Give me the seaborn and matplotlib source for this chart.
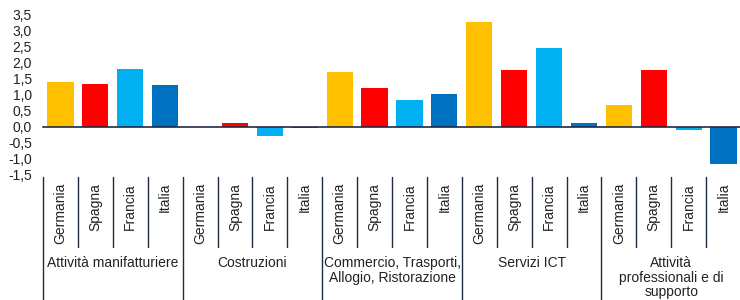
import pandas as pd
import matplotlib.pyplot as plt
import matplotlib.transforms as mtransforms
from matplotlib.lines import Line2D
import seaborn as sns

# Data
groups = ["Attività manifatturiere", "Costruzioni",
          "Commercio, Trasporti,\nAllogio, Ristorazione", "Servizi ICT",
          "Attività\nprofessionali e di\nsupporto"]
countries = ["Germania", "Spagna", "Francia", "Italia"]
manifatturiere = [1.40, 1.35, 1.82, 1.31]
costruzioni = [0.0, 0.11, -0.27, -0.04]
commercio = [1.71, 1.21, 0.84, 1.03]
servizi_ict = [3.29, 1.77, 2.47, 0.11]
professionali = [0.68, 1.77, -0.09, -1.15]
yticks = [-1.5, -1.0, -0.5, 0.0, 0.5, 1.0, 1.5, 2.0, 2.5, 3.0, 3.5]

colors = {"Germania": "#FFC000", "Spagna": "#FF0000",
          "Francia": "#00B0F0", "Italia": "#0070C0"}

series = [manifatturiere, costruzioni, commercio, servizi_ict, professionali]
rows = []
for g, vals in zip(groups, series):
    for c, v in zip(countries, vals):
        rows.append({"key": g + "|" + c, "group": g, "country": c, "value": v})
df = pd.DataFrame(rows)

sns.set_style("white")
plt.rcParams['font.family'] = ['Liberation Sans', 'DejaVu Sans']

fig = plt.figure(figsize=(7.4, 3.0), dpi=100)
ax = fig.add_axes([43 / 740, 1 - 175 / 300, 698 / 740, 160 / 300])

sns.barplot(data=df, x="key", y="value", hue="country", palette=colors,
            dodge=False, width=0.75, saturation=1, linewidth=0,
            legend=False, ax=ax)

n = len(df)
ax.set_xlim(-0.5, n - 0.5)
ax.set_ylim(-1.5, 3.5)
ax.set_xlabel("")
ax.set_ylabel("")

line_col = "#1F2A44"
for s in ["top", "right", "left"]:
    ax.spines[s].set_visible(False)
ax.spines["bottom"].set_position(("data", 0))
ax.spines["bottom"].set_color(line_col)
ax.spines["bottom"].set_linewidth(1.2)

ax.set_xticks([i - 0.5 for i in range(n + 1)])
ax.set_xticklabels([])
ax.tick_params(axis="x", direction="in", length=4, color=line_col, width=1)

ax.set_yticks(yticks)
ax.set_yticklabels([f"{t:.1f}".replace(".", ",") for t in yticks], fontsize=10, color="#222222")
ax.tick_params(axis="y", length=0, pad=8)

# category labels below the chart
trans = mtransforms.blended_transform_factory(ax.transData, fig.transFigure)
for i, c in enumerate(df["country"]):
    ax.text(i, 1 - 183 / 300, c, rotation=90, ha="center", va="top",
            fontsize=10, color="#222222", transform=trans)

for i in range(n + 1):
    if i % 4 == 0:
        y0 = 0.0
    else:
        y0 = 1 - 247 / 300
    fig.add_artist(Line2D([i - 0.5, i - 0.5], [1 - 177 / 300, y0],
                          transform=trans, color=line_col, linewidth=1))

for k, g in enumerate(groups):
    ax.text(k * 4 + 1.5, 1 - 256 / 300, g, ha="center", va="top",
            fontsize=10, color="#222222", linespacing=1.05, transform=trans)

fig.savefig("out.png", dpi=100)
